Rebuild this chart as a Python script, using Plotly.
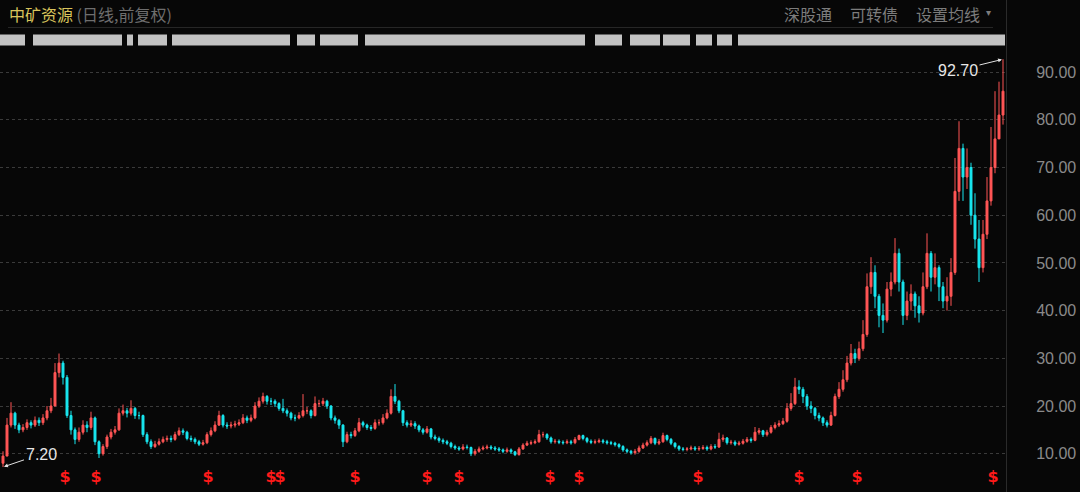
import plotly.graph_objects as go

# ---------------- data ----------------
first_open = 8.0
closes = [9.5, 16, 18.5, 16, 15, 15.5, 16.5, 16, 17, 16.5,
          17.5, 19, 20, 27, 29, 26, 18, 15, 13, 14.5,
          16, 15.5, 17.5, 12.5, 10, 11.5, 13.5, 14.5, 15, 18.5,
          19, 18.5, 19.5, 18, 18, 14, 12.5, 11.5, 12, 12.5,
          13, 13.2, 13, 14, 14.8, 14.5, 13.2, 13, 12.5, 12,
          12.3, 14, 14.8, 16, 18, 16, 15.8, 16, 16.2, 16.5,
          17.5, 17, 17.5, 20, 21, 22, 21, 21, 20.5, 19.5,
          19, 18.5, 17.5, 17.5, 18, 19, 19, 18, 20.5, 20.5,
          21, 20, 17.5, 17, 16, 12.5, 14, 13.8, 14.8, 16.5,
          16, 15.5, 15.3, 16.5, 16.5, 17.5, 18.5, 22, 21, 19,
          16.5, 16, 16.3, 15.8, 15, 14.5, 15.2, 13.5, 13.2, 12.8,
          12.5, 12.2, 11.5, 11.2, 11, 11.4, 11.3, 10, 10.5, 11,
          11.2, 11.4, 11.2, 11, 10.8, 10.5, 10.8, 10.4, 9.8, 11,
          11.8, 12.2, 12.3, 12.5, 14, 14, 13.3, 12.5, 12.6, 12.4,
          12.3, 12.5, 12.3, 13, 13.8, 13.2, 12.6, 12.4, 12.5, 12.7,
          12.5, 12.3, 12.2, 11.9, 11.5, 10.8, 10.5, 10.2, 10.5, 11.2,
          11.8, 12.3, 13.2, 12.2, 12.5, 13.8, 13, 12.2, 11.5, 11,
          10.9, 11, 11.2, 11, 11.1, 11.3, 11, 11.5, 11.4, 13,
          13.3, 12.3, 12.4, 12, 12.2, 12.6, 13, 12.8, 14.5, 14.8,
          14, 14.5, 15.5, 16, 16.3, 16.8, 19.5, 20.5, 24, 23.5,
          22, 20, 19.5, 18, 17.5, 16.5, 16, 18, 22, 23.5,
          25.5, 29, 31, 30, 32, 35, 45, 48, 43, 39,
          38, 44.5, 46, 52, 46, 39, 42, 43.5, 41, 39.5,
          45, 52, 47, 49, 45, 42, 43, 48, 65, 74,
          68, 70, 60, 55, 49, 56, 63, 70, 76, 81,
          86]
highs = [10.5, 17.5, 20.8, 18.8, 16.5, 16.2, 17.2, 17, 17.8, 17.6,
         18.3, 20, 21.7, 29, 31, 29.5, 26.5, 19, 15.5, 15.5,
         17, 16.8, 18.8, 17.8, 12.8, 12, 14, 15.2, 15.8, 19.5,
         20.3, 19.6, 21.2, 19.8, 18.8, 18.2, 14.5, 13, 12.7, 13.2,
         13.6, 13.8, 13.8, 14.6, 15.5, 15.3, 14.8, 13.8, 13.4, 12.9,
         12.9, 14.5, 15.5, 16.8, 19, 18.3, 16.6, 16.7, 16.9, 17.2,
         18.3, 18, 18.2, 20.8, 21.8, 22.8, 22.3, 21.7, 21.4, 20.8,
         21.5, 19.5, 18.8, 18.2, 18.7, 22.5, 19.8, 19.3, 22, 21.3,
         21.7, 21.3, 20.2, 18, 17.3, 16.2, 14.6, 14.6, 15.4, 17.5,
         16.9, 16.3, 16, 17.2, 17.2, 18.3, 19.3, 23.5, 24.6, 21.3,
         19.2, 17, 17, 16.8, 16.1, 15.4, 15.8, 15.4, 14, 13.6,
         13.2, 12.9, 12.5, 11.9, 11.6, 12, 11.9, 11.5, 11, 11.5,
         11.7, 11.9, 11.8, 11.6, 11.4, 11.1, 11.3, 11.1, 10.6, 11.4,
         12.2, 12.7, 12.8, 13, 15, 14.6, 14.3, 13.6, 13.1, 13,
         12.8, 13, 12.9, 13.5, 14, 14, 13.5, 13, 13, 13.2,
         13.1, 12.9, 12.7, 12.5, 12.2, 11.8, 11.1, 10.8, 11, 11.7,
         12.3, 12.8, 13.7, 13.4, 13.1, 14.4, 14, 13.3, 12.4, 11.8,
         11.4, 11.4, 11.7, 11.6, 11.6, 11.8, 11.7, 12, 12, 14.4,
         14, 13.5, 12.9, 12.8, 12.7, 13.1, 13.5, 13.4, 15.6, 15.4,
         15, 15, 16, 16.6, 17, 17.5, 20.6, 22.7, 25.9, 25.4,
         24, 22.5, 21, 19.8, 18.6, 17.8, 17, 18.8, 22.6, 25,
         27.5, 30.5, 33, 32, 33.5, 38, 47.8, 51.2, 49.5, 43.5,
         41.5, 46, 48, 55.2, 53, 46.5, 44, 45.5, 44, 43,
         48, 56.2, 52.5, 52, 49.5, 46, 47, 51, 72, 79.7,
         75, 74, 71, 64.6, 59, 59, 68, 78.5, 86, 88,
         92.7]
lows = [7.2, 9.5, 15.5, 15.2, 14.3, 14.5, 15, 15.3, 15.6, 15.8,
        16, 17, 18.5, 20, 26, 24.5, 17.5, 14, 12, 12.5,
        14, 14.5, 15, 11.8, 9.1, 9.6, 11, 13, 14, 14.8,
        18, 17.6, 18, 17.3, 17.2, 13.5, 12, 11, 11.2, 11.7,
        12.2, 12.5, 12.4, 12.7, 13.7, 13.9, 12.8, 12.5, 12, 11.6,
        11.7, 12, 13.6, 14.5, 15.8, 15.5, 15.2, 15.3, 15.5, 15.8,
        16.2, 16.4, 16.6, 17.2, 19.6, 20.5, 20.3, 20.2, 19.8, 19,
        18.5, 17.8, 17, 16.8, 17.2, 17.6, 18.3, 17.4, 17.8, 19.8,
        20, 19.4, 17, 16.3, 15.2, 11.4, 12.2, 13.2, 13.5, 14.5,
        15.5, 15, 14.8, 15, 15.9, 16.1, 17.2, 18.2, 20.4, 18.5,
        15.8, 15.5, 15.6, 15.2, 14.5, 14, 14.2, 13, 12.8, 12.3,
        12, 11.8, 11.1, 10.8, 10.6, 10.7, 10.9, 9.5, 9.6, 10.2,
        10.7, 10.9, 10.8, 10.6, 10.4, 10.1, 10.2, 10, 9.5, 9.6,
        10.8, 11.6, 11.8, 12, 12.3, 13.4, 12.9, 12.1, 12.1, 12,
        11.9, 12, 11.9, 12, 12.8, 12.8, 12.2, 12, 12, 12.2,
        12.1, 11.9, 11.8, 11.5, 11.1, 10.4, 10.1, 9.8, 9.8, 10.2,
        11, 11.5, 12, 11.8, 11.8, 12.3, 12.6, 11.8, 11.1, 10.6,
        10.5, 10.5, 10.7, 10.6, 10.6, 10.8, 10.6, 10.7, 11, 11.2,
        12.5, 11.9, 11.9, 11.6, 11.7, 11.9, 12.3, 12.3, 12.6, 14,
        13.5, 13.6, 14.2, 15.1, 15.6, 16, 16.5, 19, 20.2, 22.5,
        20.6, 19.2, 18.5, 17.2, 16.8, 15.8, 15.5, 15.8, 17.8, 21.5,
        23, 25, 28.5, 29, 29.5, 31.5, 34.5, 43.5, 40.5, 36.5,
        35.3, 37.5, 43, 45.5, 44, 37, 38, 40, 38.5, 37.5,
        39, 44.5, 44, 45.5, 42, 40.5, 40, 41, 47.5, 63,
        63, 65.5, 58, 53, 46, 48, 55, 62, 68.8, 77.5,
        79]

y_ticks = [10, 20, 30, 40, 50, 60, 70, 80, 90]
y_range = [1.97, 105.12]
max_label, min_label = "92.70", "7.20"

stock_name = "中矿资源"
sub_title = "(日线,前复权)"
buttons = ["深股通", "可转债", "设置均线"]
button_px = [782, 848, 914]

# positions (candle index) of the red "$" event markers
event_idx = [15.5, 23.25, 51.25, 67, 69.25, 88, 106, 114, 136.75, 144, 173.75, 199, 213.5, 247.5]
event_y = 4.9

# redacted (blurred) information strip segments, pixel spans
blur_segments = [(0, 25), (33, 122), (127, 133), (138, 167), (172, 290), (297, 315),
                 (320, 358), (365, 585), (595, 622), (630, 660), (663, 690),
                 (696, 712), (717, 732), (738, 1005)]

# ---------------- figure ----------------
W, H = 1080, 492
PW = 1006  # plot area width in px
opens = [first_open] + closes[:-1]
n = len(closes)
x = list(range(n))
hi = [max(h, o, c) for h, o, c in zip(highs, opens, closes)]
lo = [min(l, o, c) for l, o, c in zip(lows, opens, closes)]

UP, DOWN = "#ff5555", "#19e6ef"
fig = go.Figure()
fig.add_trace(go.Candlestick(
    x=x, open=opens, high=hi, low=lo, close=closes,
    increasing=dict(line=dict(color=UP, width=1), fillcolor=UP),
    decreasing=dict(line=dict(color=DOWN, width=1), fillcolor=DOWN),
    whiskerwidth=0, hoverinfo="skip", showlegend=False))

fig.add_trace(go.Scatter(
    x=event_idx, y=[event_y] * len(event_idx), mode="text", text=["<b>$</b>"] * len(event_idx),
    textfont=dict(color="#ff1a1a", size=16, family="DejaVu Sans"),
    hoverinfo="skip", showlegend=False, cliponaxis=False))

def px2paper_x(px):
    return px / PW

def py2paper_y(py):
    return 1 - py / H

shapes = []
for a, b in blur_segments:
    shapes.append(dict(type="rect", xref="paper", yref="paper",
                       x0=px2paper_x(a), x1=px2paper_x(b),
                       y0=py2paper_y(45.5), y1=py2paper_y(34.5),
                       fillcolor="#c2c2c2", line=dict(width=0), layer="above"))
shapes.append(dict(type="line", xref="paper", yref="paper",
                   x0=px2paper_x(8), x1=px2paper_x(993),
                   y0=py2paper_y(27.5), y1=py2paper_y(27.5),
                   line=dict(color="#262626", width=1)))

annotations = [
    dict(xref="paper", yref="paper", x=px2paper_x(7), y=py2paper_y(14),
         xanchor="left", yanchor="middle", showarrow=False,
         text=f'<span style="color:#d9c45c">{stock_name}</span> '
              f'<span style="color:#6e6e6e">{sub_title}</span>',
         font=dict(size=16, family="Noto Sans CJK SC")),
]
for t, bx in zip(buttons, button_px):
    annotations.append(dict(xref="paper", yref="paper", x=px2paper_x(bx), y=py2paper_y(14),
                            xanchor="left", yanchor="middle", showarrow=False, text=t,
                            font=dict(size=16, color="#7c7c7c", family="Noto Sans CJK SC")))
annotations.append(dict(xref="paper", yref="paper", x=px2paper_x(988), y=py2paper_y(13),
                        xanchor="center", yanchor="middle", showarrow=False, text="▾",
                        font=dict(size=10, color="#7c7c7c")))

imax = max(range(n), key=lambda i: hi[i])
imin = min(range(n), key=lambda i: lo[i])
annotations.append(dict(x=imax, y=hi[imax], xref="x", yref="y", text=max_label,
                        showarrow=True, ax=-45, ay=11, arrowcolor="#e0e0e0",
                        arrowwidth=1, arrowhead=2, arrowsize=0.8, standoff=1,
                        font=dict(size=16, color="#e6e6e6", family="Liberation Sans")))
annotations.append(dict(x=imin, y=lo[imin], xref="x", yref="y", text=min_label,
                        showarrow=True, ax=38, ay=-13, arrowcolor="#e0e0e0",
                        arrowwidth=1, arrowhead=2, arrowsize=0.8, standoff=1,
                        font=dict(size=16, color="#e6e6e6", family="Liberation Sans")))

fig.update_layout(
    width=W, height=H, autosize=False,
    margin=dict(l=0, r=W - PW, t=0, b=0, pad=0),
    paper_bgcolor="#070707", plot_bgcolor="#070707",
    shapes=shapes, annotations=annotations, showlegend=False,
    xaxis=dict(range=[-0.75, n - 0.25], visible=False, rangeslider=dict(visible=False),
               fixedrange=True),
    yaxis=dict(range=y_range, side="right", tickvals=y_ticks,
               ticktext=[f"{v:.2f}" for v in y_ticks],
               showgrid=True, gridcolor="#3a3a3a", griddash="dot", gridwidth=1,
               zeroline=False, showline=True, linecolor="#2a2a2a", linewidth=1,
               ticks="", ticklabelstandoff=26,
               tickfont=dict(size=16, color="#8a8a8a", family="Liberation Sans"),
               fixedrange=True),
    font=dict(family="Liberation Sans, Noto Sans CJK SC"),
)

fig.write_html(
    "out.html", config={"displayModeBar": False},
    post_script="document.body.style.margin='0';document.body.style.background='#070707';"
                "document.documentElement.style.overflow='hidden';")
